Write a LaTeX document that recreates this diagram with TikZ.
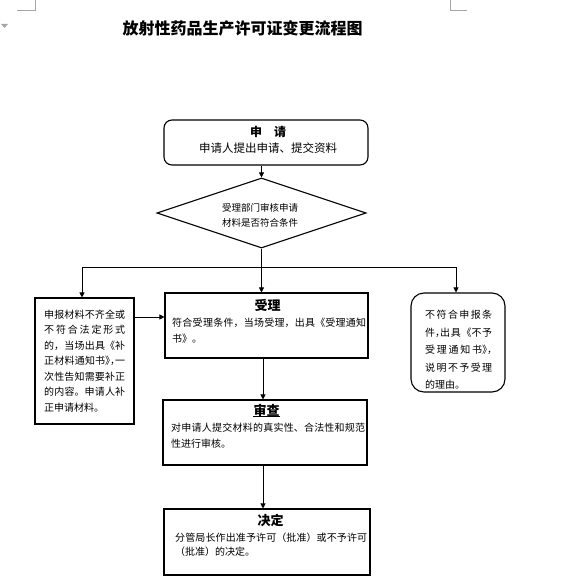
\documentclass[tikz,border=0pt]{standalone}
\usepackage{fontspec}
\setmainfont{Noto Sans CJK SC}
\usetikzlibrary{arrows.meta,shapes.geometric}
\XeTeXlinebreaklocale "zh"
\XeTeXlinebreakskip=0pt plus 2pt minus 0.5pt
\newcommand\hpunct[1]{{\addfontfeature{RawFeature=+halt}#1}}
\begin{document}
\begin{tikzpicture}[x=1pt,y=-1pt,
  box/.style={draw=black,line width=1.1pt,inner sep=0pt},
  conn/.style={draw=black,line width=0.8pt,-{Triangle[length=5pt,width=5pt]}},
  plainline/.style={draw=black,line width=0.8pt},
  bodytext/.style={inner sep=0pt,anchor=north west,align=justify},
  headtext/.style={inner sep=0pt,font=\fontsize{13}{13}\selectfont\bfseries},
  pagemark/.style={draw=black!35,line width=0.7pt}
]
\useasboundingbox (0,0) rectangle (579,583);
% page marks
\draw[pagemark] (17,10) -- (35,10) -- (35,0);
\draw[pagemark] (450,0) -- (450,10) -- (467,10);
\fill[black!35] (1,24) -- (8,24) -- (4.5,28) -- cycle;
% title
\node[inner sep=0pt,font=\fontsize{16}{16}\selectfont\bfseries] (title) at (242.5,28) {放射性药品生产许可证变更流程图};
% boxes
\node[box,rounded corners=8pt,minimum width=204pt,minimum height=45pt] (start) at (266,142.5) {};
\node[box,diamond,minimum width=209pt,minimum height=70pt] (dia) at (261.5,213) {};
\node[box,minimum width=203pt,minimum height=65pt] (acc) at (266.5,325.5) {};
\node[box,minimum width=204pt,minimum height=65pt] (rev) at (265,432.5) {};
\node[box,minimum width=206pt,minimum height=66pt] (dec) at (267,542) {};
\node[box,minimum width=99pt,minimum height=126pt] (supp) at (84.5,361) {};
\node[box,rounded corners=13pt,minimum width=94pt,minimum height=99pt] (rej) at (458,342.5) {};
% texts
\node[inner sep=0pt,font=\fontsize{12}{12}\selectfont\bfseries] (st1) at (268,132) {申　请};
\node[inner sep=0pt,font=\fontsize{11.5}{11.5}\selectfont] (st2) at (268,148) {申请人提出申请、提交资料};
\node[inner sep=0pt,align=center,font=\fontsize{9.5}{15}\selectfont] (dt) at (260,215.5) {受理部门审核申请\\材料是否符合条件};
\node[headtext] (acch) at (267.5,305) {受理};
\node[bodytext,text width=194pt,font=\fontsize{10}{16}\selectfont] (accb) at (172,317.5) {符合受理条件，当场受理，出具《受理通知\linebreak 书》。};
\node[headtext] (revh) at (266.5,410) {审查};
\draw[line width=0.8pt] (revh.south west) -- (revh.south east);
\node[bodytext,text width=194pt,font=\fontsize{10}{16}\selectfont] (revb) at (171,422.5) {对申请人提交材料的真实性、合法性和规范\linebreak 性进行审核。};
\node[headtext] (dech) at (270.5,520) {决定};
\node[bodytext,text width=192pt,font=\fontsize{10}{14}\selectfont] (decb) at (175,532.5) {分管局长作出准予许可（批准）或不予许可\linebreak （批准）的决定。};
\node[bodytext,text width=81pt,font=\fontsize{10}{15.5}\selectfont] (suppb) at (44,309.5) {申报材料不齐全或\linebreak 不符合法定形式\linebreak 的，当场出具《补\linebreak 正材料通知书\hpunct{》，}一\linebreak 次性告知需要补正\linebreak 的内容。申请人补\linebreak 正申请材料。};
\node[bodytext,text width=67pt,font=\fontsize{10}{17.5}\selectfont] (rejb) at (425,310) {不符合申报条\linebreak 件\hpunct{，}出具《不予\linebreak 受理通知书\hpunct{》，}\linebreak 说明不予受理\linebreak 的理由。};
% connectors
\draw[conn] (start.south -| dia.north) -- (dia.north);
\draw[conn] (dia.south) -- (dia.south |- acc.north);
\coordinate (jl) at (82,267);
\coordinate (jr) at (456,267);
\draw[plainline] (jl) -- (jr);
\draw[conn] (jl) -- (jl |- supp.north);
\draw[conn] (jr) -- (jr |- rej.north);
\coordinate (sa) at (134,317);
\draw[conn] (sa) -- (sa -| acc.west);
\coordinate (ar) at (263,358);
\draw[conn] (ar) -- (ar |- rev.north);
\coordinate (rd) at (263,465);
\draw[conn] (rd) -- (rd |- dec.north);
\end{tikzpicture}
\end{document}
